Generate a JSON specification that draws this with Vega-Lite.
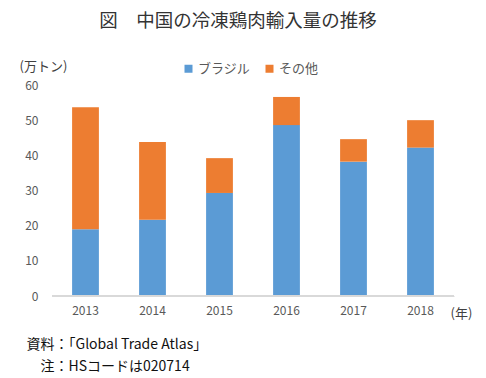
{
  "$schema": "https://vega.github.io/schema/vega-lite/v6.json",
  "width": 402,
  "height": 211,
  "autosize": {"type": "none"},
  "padding": {"left": 52, "top": 85, "right": 32, "bottom": 82},
  "background": "white",
  "config": {
    "view": {"stroke": null},
    "font": "Noto Sans CJK JP"
  },
  "title": {
    "text": "図　中国の冷凍鶏肉輸入量の推移",
    "fontSize": 18.5,
    "fontWeight": "normal",
    "color": "#333333",
    "anchor": "middle",
    "dx": -15,
    "offset": 30
  },
  "data": {
    "values": [
      {"year": "2013", "series": "ブラジル", "value": 19.0},
      {"year": "2013", "series": "その他", "value": 34.7},
      {"year": "2014", "series": "ブラジル", "value": 21.7},
      {"year": "2014", "series": "その他", "value": 22.1},
      {"year": "2015", "series": "ブラジル", "value": 29.3},
      {"year": "2015", "series": "その他", "value": 9.9},
      {"year": "2016", "series": "ブラジル", "value": 48.6},
      {"year": "2016", "series": "その他", "value": 8.0},
      {"year": "2017", "series": "ブラジル", "value": 38.2},
      {"year": "2017", "series": "その他", "value": 6.4},
      {"year": "2018", "series": "ブラジル", "value": 42.2},
      {"year": "2018", "series": "その他", "value": 7.8}
    ]
  },
  "layer": [
    {
      "mark": {"type": "bar"},
      "encoding": {
        "x": {
          "field": "year",
          "type": "ordinal",
          "scale": {"paddingInner": 0.6, "paddingOuter": 0.3},
          "axis": {
            "title": "(年)",
            "titleFontSize": 13,
            "titleFontWeight": "normal",
            "titleColor": "#404040",
            "titleAngle": 0,
            "titleAlign": "left",
            "titleBaseline": "middle",
            "titleAnchor": null,
            "titleX": 398,
            "titleY": 17,
            "labelAngle": 0,
            "labelFontSize": 12,
            "labelColor": "#595959",
            "labelPadding": 9,
            "ticks": false,
            "tickSize": 0,
            "domainColor": "#d9d9d9",
            "domainWidth": 1
          }
        },
        "y": {
          "field": "value",
          "type": "quantitative",
          "stack": "zero",
          "scale": {"domain": [0, 60], "nice": false},
          "axis": {
            "values": [0, 10, 20, 30, 40, 50, 60],
            "grid": false,
            "domain": false,
            "ticks": false,
            "tickSize": 0,
            "labelPadding": 14,
            "labelFontSize": 12,
            "labelColor": "#595959",
            "title": "(万トン)",
            "titleFontSize": 13,
            "titleFontWeight": "normal",
            "titleColor": "#404040",
            "titleAngle": 0,
            "titleAlign": "left",
            "titleBaseline": "middle",
            "titleAnchor": null,
            "titleX": -33,
            "titleY": -19
          }
        },
        "color": {
          "field": "series",
          "type": "nominal",
          "scale": {"domain": ["ブラジル", "その他"], "range": ["#5B9BD5", "#ED7D31"]},
          "legend": {
            "title": null,
            "orient": "none",
            "direction": "horizontal",
            "legendX": 130,
            "legendY": -23,
            "symbolType": "square",
            "symbolSize": 64,
            "symbolStrokeWidth": 0,
            "labelFontSize": 13,
            "labelColor": "#595959",
            "columnPadding": 12,
            "labelOffset": 3
          }
        },
        "order": {"field": "series", "sort": "descending"}
      }
    },
    {
      "mark": {"type": "rule", "color": "#d9d9d9", "strokeWidth": 1},
      "encoding": {
        "y": {
          "datum": 0,
          "type": "quantitative",
          "scale": {"domain": [0, 60], "nice": false},
          "axis": {
            "orient": "right",
            "labels": false,
            "ticks": false,
            "domain": false,
            "grid": false,
            "title": ["資料：「Global Trade Atlas」", "\u200b\u3000注：HSコードは020714"],
            "titleFontSize": 14,
            "titleFontWeight": "normal",
            "titleColor": "#111111",
            "titleAngle": 0,
            "titleAlign": "left",
            "titleBaseline": "top",
            "titleAnchor": null,
            "titleLineHeight": 22,
            "titleX": -428,
            "titleY": 252
          }
        }
      }
    }
  ],
  "resolve": {"axis": {"y": "independent"}}
}
